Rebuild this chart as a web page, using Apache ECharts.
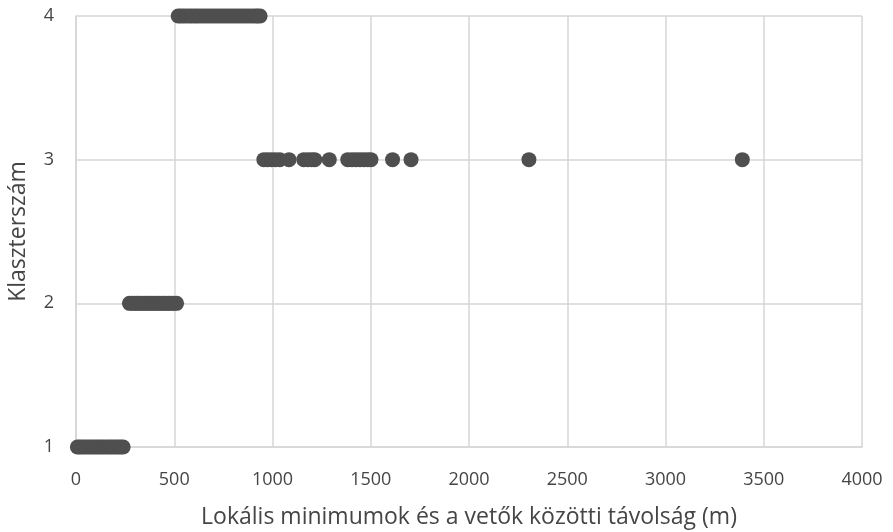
<!DOCTYPE html>
<html>
<head>
<meta charset="utf-8">
<script src="https://cdn.jsdelivr.net/npm/echarts@6/dist/echarts.min.js"></script>
<style>
  html, body { margin: 0; padding: 0; background: #fff; }
  #chart { width: 893px; height: 532px; }
</style>
</head>
<body>
<div id="chart"></div>
<script>
// távolság (m) értékek klaszterenként
const cluster1 = [7, 18, 30, 42, 55, 68, 80, 93, 105, 118, 130, 142, 155, 168, 180, 192, 205, 216, 228, 240];
const cluster2 = [272, 285, 298, 310, 322, 335, 348, 360, 372, 385, 398, 410, 422, 435, 448, 460, 472, 485, 498, 512];
const cluster3 = [956, 975, 995, 1015, 1037, 1084, 1159, 1180, 1200, 1215, 1289, 1383, 1405, 1425, 1445, 1465, 1485, 1501, 1611, 1705, 2305, 3391];
const cluster4 = [520, 533, 546, 560, 575, 588, 602, 615, 630, 645, 660, 675, 690, 705, 720, 735, 750, 765, 780, 795, 810, 825, 840, 855, 870, 885, 900, 915, 925, 937];
const clusterIds = [1, 2, 3, 4];
const xTicks = [0, 500, 1000, 1500, 2000, 2500, 3000, 3500, 4000];

const chart = echarts.init(document.getElementById("chart"));

let points = [];
[cluster1, cluster2, cluster3, cluster4].forEach((list, i) => {
  list.forEach((x) => points.push([x, clusterIds[i]]));
});

const labelColor = "#454545";
const gridColor = "#d6d6d6";

let option = {
  animation: false,
  grid: {
    left: 76,
    right: 31,
    top: 16,
    bottom: 85,
    outerBoundsMode: "none",
  },
  xAxis: {
    type: "value",
    min: xTicks[0],
    max: xTicks[xTicks.length - 1],
    interval: 500,
    name: "Lokális minimumok és a vetők közötti távolság (m)",
    nameLocation: "middle",
    nameGap: 59,
    nameTextStyle: {
      color: labelColor,
      fontSize: 23,
      fontFamily: "Open Sans",
    },
    axisLine: {
      show: true,
      lineStyle: { color: gridColor, width: 1.5 },
    },
    axisTick: { show: false },
    axisLabel: {
      color: labelColor,
      fontSize: 18,
      fontFamily: "Open Sans",
      margin: 24,
      formatter: (v) => String(v),
    },
    splitLine: {
      show: true,
      lineStyle: { color: gridColor, width: 1.5 },
    },
  },
  yAxis: {
    type: "value",
    min: 1,
    max: 4,
    interval: 1,
    name: "Klaszterszám",
    nameLocation: "middle",
    nameGap: 46,
    nameTextStyle: {
      color: labelColor,
      fontSize: 23,
      fontFamily: "Open Sans",
    },
    axisLine: {
      show: true,
      lineStyle: { color: gridColor, width: 1.5 },
    },
    axisTick: { show: false },
    axisLabel: {
      color: labelColor,
      fontSize: 18,
      fontFamily: "Open Sans",
      margin: 22,
    },
    splitLine: {
      show: true,
      lineStyle: { color: gridColor, width: 1.5 },
    },
  },
  series: [
    {
      type: "scatter",
      symbol: "circle",
      symbolSize: 15,
      itemStyle: { color: "#4f4f4f", opacity: 1 },
      data: points,
    },
  ],
};
chart.setOption(option);
</script>
</body>
</html>
